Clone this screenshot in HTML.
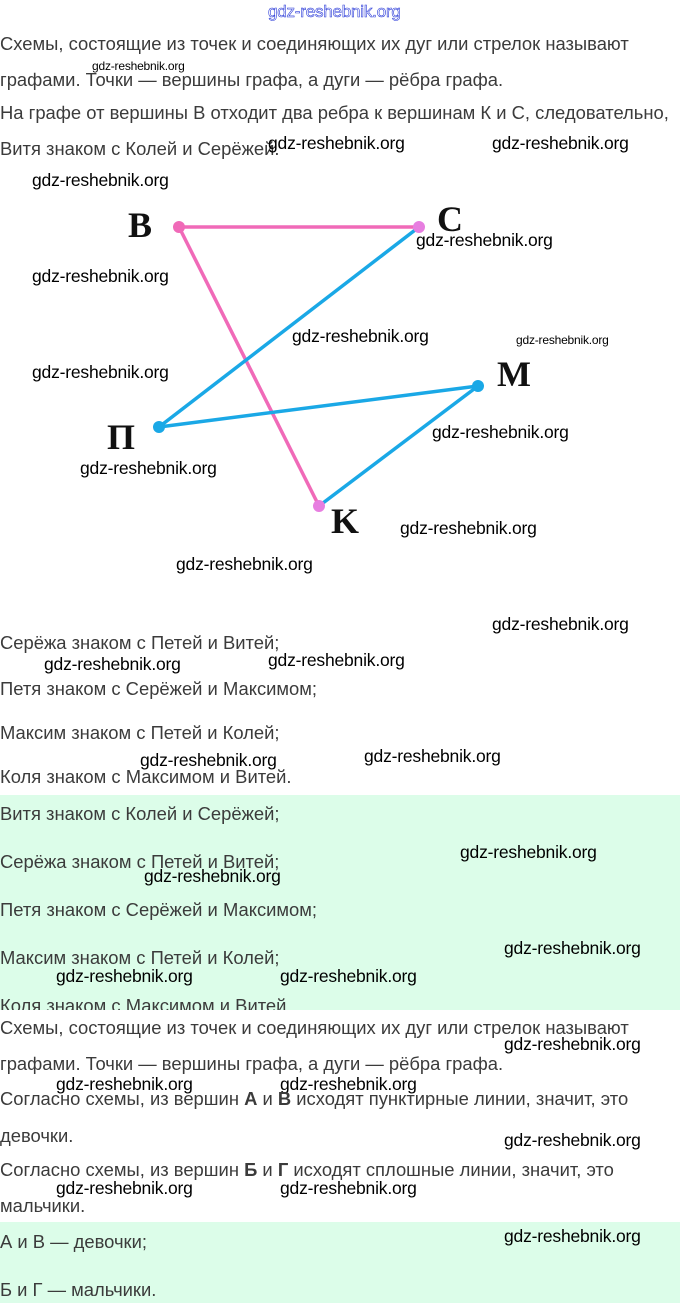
<!DOCTYPE html>
<html><head><meta charset="utf-8"><style>
body{margin:0;width:680px;height:1303px;position:relative;background:#fff;overflow:hidden;font-family:"Liberation Sans",sans-serif}
.t{position:absolute;left:0;font-size:18.4px;color:#3b3b3b;white-space:nowrap;line-height:20px}
.w{position:absolute;font-family:"Liberation Sans",sans-serif;font-size:17.5px;color:#000;white-space:nowrap;line-height:20px;letter-spacing:-0.2px}
.g{position:absolute;left:0;width:680px;background:#dcfde9}
.L{position:absolute;font-family:"Liberation Serif",serif;font-weight:bold;font-size:36px;color:#111;line-height:34px}
</style></head><body>
<div class="g" style="top:795px;height:215px"></div>
<div class="g" style="top:1222px;height:81px"></div>
<div class="w" style="left:268px;top:2px;color:#fff;-webkit-text-stroke:0.6px #2a3ad8;font-size:17px">gdz-reshebnik.org</div>

<div class="t" style="top:34px">Схемы, состоящие из точек и соединяющих их дуг или стрелок называют</div>
<div class="t" style="top:70px">графами. Точки — вершины графа, а дуги — рёбра графа.</div>
<div class="t" style="top:103px">На графе от вершины В отходит два ребра к вершинам К и С, следовательно,</div>
<div class="t" style="top:139px">Витя знаком с Колей и Серёжей.</div>
<div class="w" style="left:92px;top:56px;font-size:12px">gdz-reshebnik.org</div>
<div class="w" style="left:268px;top:133px">gdz-reshebnik.org</div>
<div class="w" style="left:492px;top:133px">gdz-reshebnik.org</div>
<div class="w" style="left:32px;top:170px">gdz-reshebnik.org</div>

<svg style="position:absolute;left:0;top:0" width="680" height="600">
<line x1="179" y1="227" x2="419" y2="227" stroke="#f06ab8" stroke-width="3.5"/>
<line x1="179" y1="227" x2="319" y2="506" stroke="#f06ab8" stroke-width="3.5"/>
<line x1="419" y1="227" x2="159" y2="427" stroke="#1aa8e6" stroke-width="3.5"/>
<line x1="159" y1="427" x2="478" y2="386" stroke="#1aa8e6" stroke-width="3.5"/>
<line x1="478" y1="386" x2="319" y2="506" stroke="#1aa8e6" stroke-width="3.5"/>
<circle cx="179" cy="227" r="6" fill="#f06ab8"/>
<circle cx="419" cy="227" r="6" fill="#e77ee0"/>
<circle cx="159" cy="427" r="6" fill="#1aa8e6"/>
<circle cx="478" cy="386" r="6" fill="#1aa8e6"/>
<circle cx="319" cy="506" r="6" fill="#e77ee0"/>
</svg>
<div class="L" style="left:128px;top:208px">B</div>
<div class="L" style="left:437px;top:202px">C</div>
<div class="L" style="left:107px;top:420px">П</div>
<div class="L" style="left:497px;top:357px">M</div>
<div class="L" style="left:331px;top:504px">K</div>
<div class="w" style="left:416px;top:230px">gdz-reshebnik.org</div>
<div class="w" style="left:32px;top:266px">gdz-reshebnik.org</div>
<div class="w" style="left:292px;top:326px">gdz-reshebnik.org</div>
<div class="w" style="left:516px;top:330px;font-size:12px">gdz-reshebnik.org</div>
<div class="w" style="left:32px;top:362px">gdz-reshebnik.org</div>
<div class="w" style="left:432px;top:422px">gdz-reshebnik.org</div>
<div class="w" style="left:80px;top:458px">gdz-reshebnik.org</div>
<div class="w" style="left:400px;top:518px">gdz-reshebnik.org</div>
<div class="w" style="left:176px;top:554px">gdz-reshebnik.org</div>

<div class="w" style="left:492px;top:614px">gdz-reshebnik.org</div>
<div class="t" style="top:633px">Серёжа знаком с Петей и Витей;</div>
<div class="w" style="left:44px;top:654px">gdz-reshebnik.org</div>
<div class="w" style="left:268px;top:650px">gdz-reshebnik.org</div>
<div class="t" style="top:679px">Петя знаком с Серёжей и Максимом;</div>
<div class="t" style="top:723px">Максим знаком с Петей и Колей;</div>
<div class="w" style="left:140px;top:750px">gdz-reshebnik.org</div>
<div class="w" style="left:364px;top:746px">gdz-reshebnik.org</div>
<div class="t" style="top:767px">Коля знаком с Максимом и Витей.</div>

<div class="t" style="top:804px">Витя знаком с Колей и Серёжей;</div>
<div class="t" style="top:852px">Серёжа знаком с Петей и Витей;</div>
<div class="w" style="left:460px;top:842px">gdz-reshebnik.org</div>
<div class="w" style="left:144px;top:866px">gdz-reshebnik.org</div>
<div class="t" style="top:900px">Петя знаком с Серёжей и Максимом;</div>
<div class="t" style="top:948px">Максим знаком с Петей и Колей;</div>
<div class="w" style="left:504px;top:938px">gdz-reshebnik.org</div>
<div class="w" style="left:56px;top:966px">gdz-reshebnik.org</div>
<div class="w" style="left:280px;top:966px">gdz-reshebnik.org</div>
<div style="position:absolute;left:0;top:990px;width:680px;height:20px;overflow:hidden"><div class="t" style="top:6px">Коля знаком с Максимом и Витей.</div></div>

<div class="t" style="top:1018px">Схемы, состоящие из точек и соединяющих их дуг или стрелок называют</div>
<div class="w" style="left:504px;top:1034px">gdz-reshebnik.org</div>
<div class="t" style="top:1054px">графами. Точки — вершины графа, а дуги — рёбра графа.</div>
<div class="w" style="left:56px;top:1074px">gdz-reshebnik.org</div>
<div class="w" style="left:280px;top:1074px">gdz-reshebnik.org</div>
<div class="t" style="top:1089px">Согласно схемы, из вершин <b>А</b> и <b>В</b> исходят пунктирные линии, значит, это</div>
<div class="t" style="top:1126px">девочки.</div>
<div class="w" style="left:504px;top:1130px">gdz-reshebnik.org</div>
<div class="t" style="top:1160px">Согласно схемы, из вершин <b>Б</b> и <b>Г</b> исходят сплошные линии, значит, это</div>
<div class="w" style="left:56px;top:1178px">gdz-reshebnik.org</div>
<div class="w" style="left:280px;top:1178px">gdz-reshebnik.org</div>
<div class="t" style="top:1196px">мальчики.</div>
<div class="w" style="left:504px;top:1226px">gdz-reshebnik.org</div>
<div class="t" style="top:1232px">А и В — девочки;</div>
<div class="t" style="top:1280px">Б и Г — мальчики.</div>
</body></html>
